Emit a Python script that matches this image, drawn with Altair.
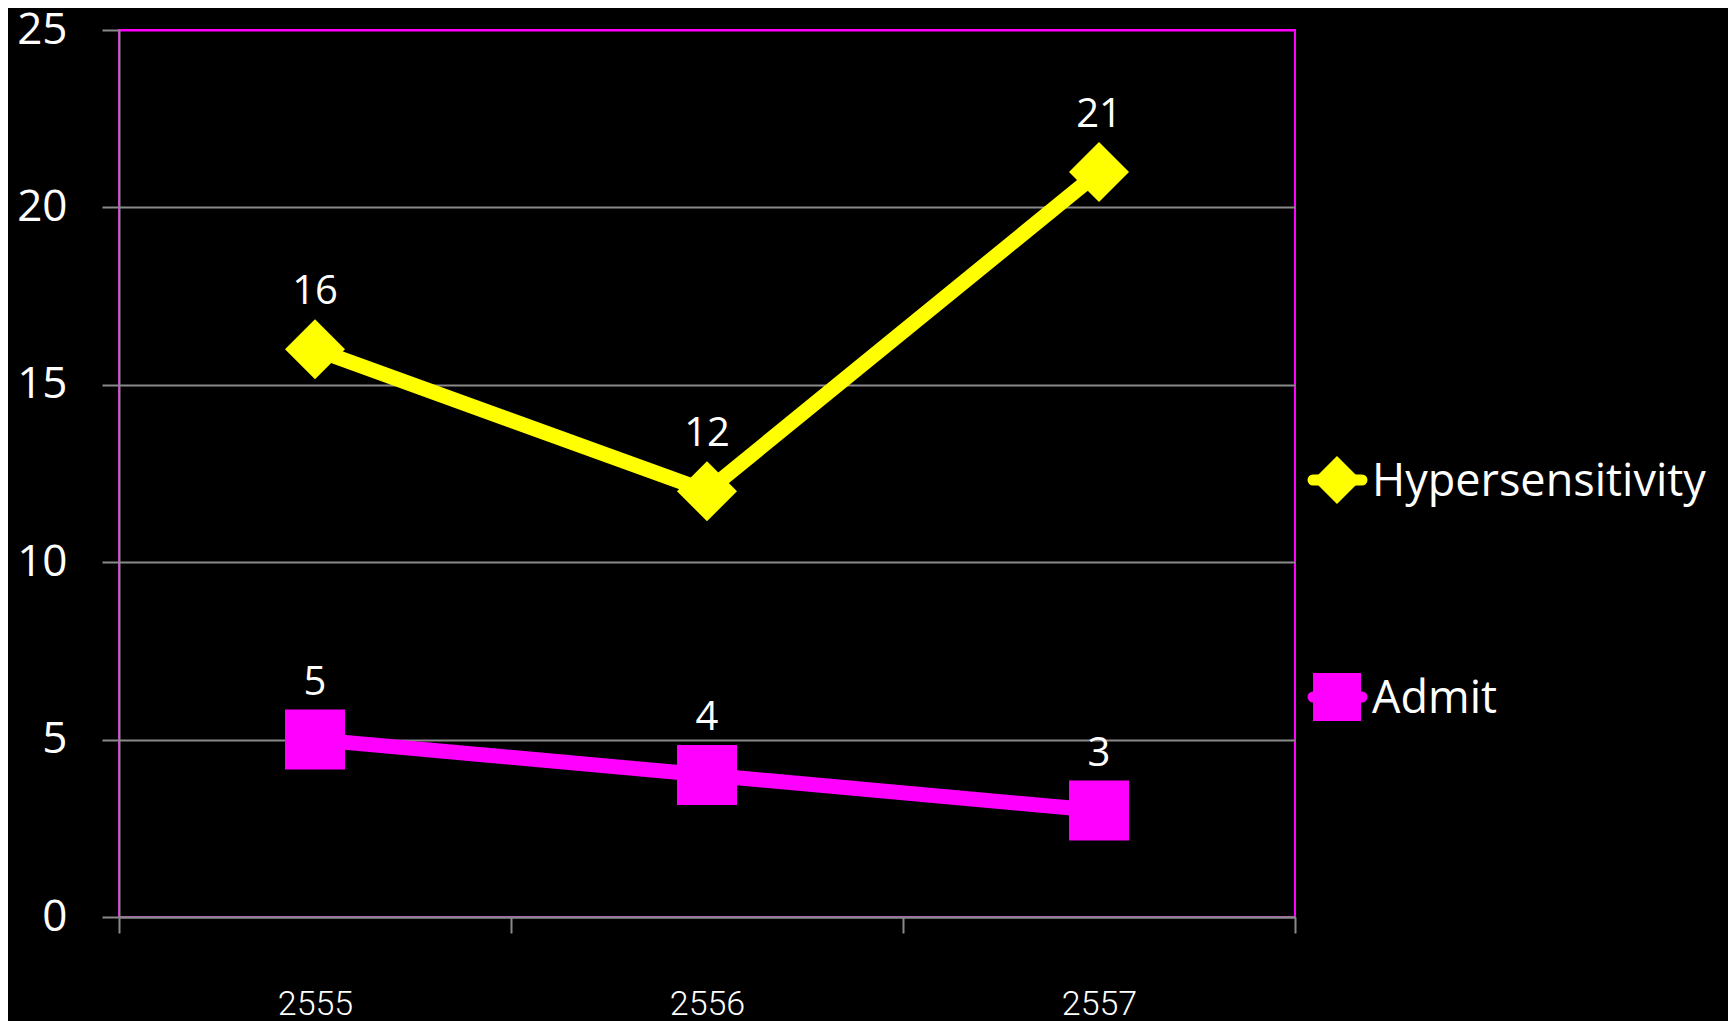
import altair as alt
import pandas as pd

years = ["2555", "2556", "2557"]
hyper = [16, 12, 21]
admit = [5, 4, 3]
series_names = ["Hypersensitivity", "Admit"]
colors = ["#ffff00", "#ff00ff"]
shapes = ["diamond", "square"]
y_ticks = [0, 5, 10, 15, 20, 25]

rows = []
for y, v in zip(years, hyper):
    rows.append({"year": y, "value": v, "series": "Hypersensitivity"})
for y, v in zip(years, admit):
    rows.append({"year": y, "value": v, "series": "Admit"})
df = pd.DataFrame(rows)
df_leg = pd.DataFrame({"series": series_names})

FONT = "Open Sans"
GRAY = "#8a8a8a"

x_enc = alt.X(
    "year:O",
    sort=years,
    scale=alt.Scale(type="band", paddingInner=0, paddingOuter=0),
    axis=alt.Axis(
        title=None,
        tickBand="extent",
        tickSize=16,
        tickColor=GRAY,
        tickWidth=2,
        domainColor=GRAY,
        domainWidth=2,
        labelFont="Roboto",
        labelFontWeight=300,
        labelFontSize=34,
        labelColor="white",
        labelPadding=54,
        labelAngle=0,
        grid=False,
    ),
)
y_enc = alt.Y(
    "value:Q",
    scale=alt.Scale(domain=[0, 25], nice=False, zero=True),
    axis=alt.Axis(
        title=None,
        values=y_ticks,
        tickSize=17,
        tickColor=GRAY,
        tickWidth=2,
        domainColor=GRAY,
        domainWidth=2,
        gridColor=alt.condition("datum.value == 25", alt.value("#ff00ff"), alt.value(GRAY)),
        gridWidth=2,
        labelFont=FONT,
        labelFontSize=44,
        labelColor="white",
        labelPadding=35,
    ),
)

color_enc = alt.Color("series:N", scale=alt.Scale(domain=series_names, range=colors), legend=None)
shape_enc = alt.Shape("series:N", scale=alt.Scale(domain=series_names, range=shapes), legend=None)

base = alt.Chart(df)

lines = base.mark_line(strokeWidth=15, strokeCap="butt").encode(
    x=x_enc, y=y_enc, color=color_enc, detail="series:N",
)
points = base.mark_point(filled=True, opacity=1, strokeWidth=0, size=3600).encode(
    x=x_enc, y=y_enc, color=color_enc, shape=shape_enc,
)
labels = base.mark_text(
    dy=-45, baseline="alphabetic", align="center", font=FONT, fontSize=40, color="white"
).encode(x=x_enc, y=y_enc, text="value:Q")

main = alt.layer(lines, points, labels)

# legend drawn with its own point scale
leg_y = alt.Y("series:N", sort=series_names,
              scale=alt.Scale(type="point", domain=series_names, range=[450, 667], padding=0),
              axis=None)
leg_base = alt.Chart(df_leg)
leg_stub = leg_base.mark_rule(strokeWidth=11, strokeCap="round", opacity=1).encode(
    x=alt.value(1194), x2=alt.value(1243), y=leg_y, color=color_enc,
)
leg_pts = leg_base.mark_point(filled=True, opacity=1, strokeWidth=0, size=2300).encode(
    x=alt.value(1218), y=leg_y, color=color_enc, shape=shape_enc,
)
leg_txt = leg_base.mark_text(
    align="left", baseline="middle", font=FONT, fontSize=45, color="white", dy=2
).encode(x=alt.value(1253), y=leg_y, text="series:N")
leg = alt.layer(leg_stub, leg_pts, leg_txt)

chart = (
    alt.layer(main, leg)
    .resolve_scale(y="independent")
    .properties(
        width=1176,
        height=887,
        autosize=alt.AutoSizeParams(type="none"),
        padding={"left": 111, "top": 22, "right": 433, "bottom": 104},
        background="black",
    )
    .configure_view(stroke="#ff00ff", strokeWidth=2, fill="black")
)

chart.save("out.html", embed_options={"renderer": "svg", "actions": False})
